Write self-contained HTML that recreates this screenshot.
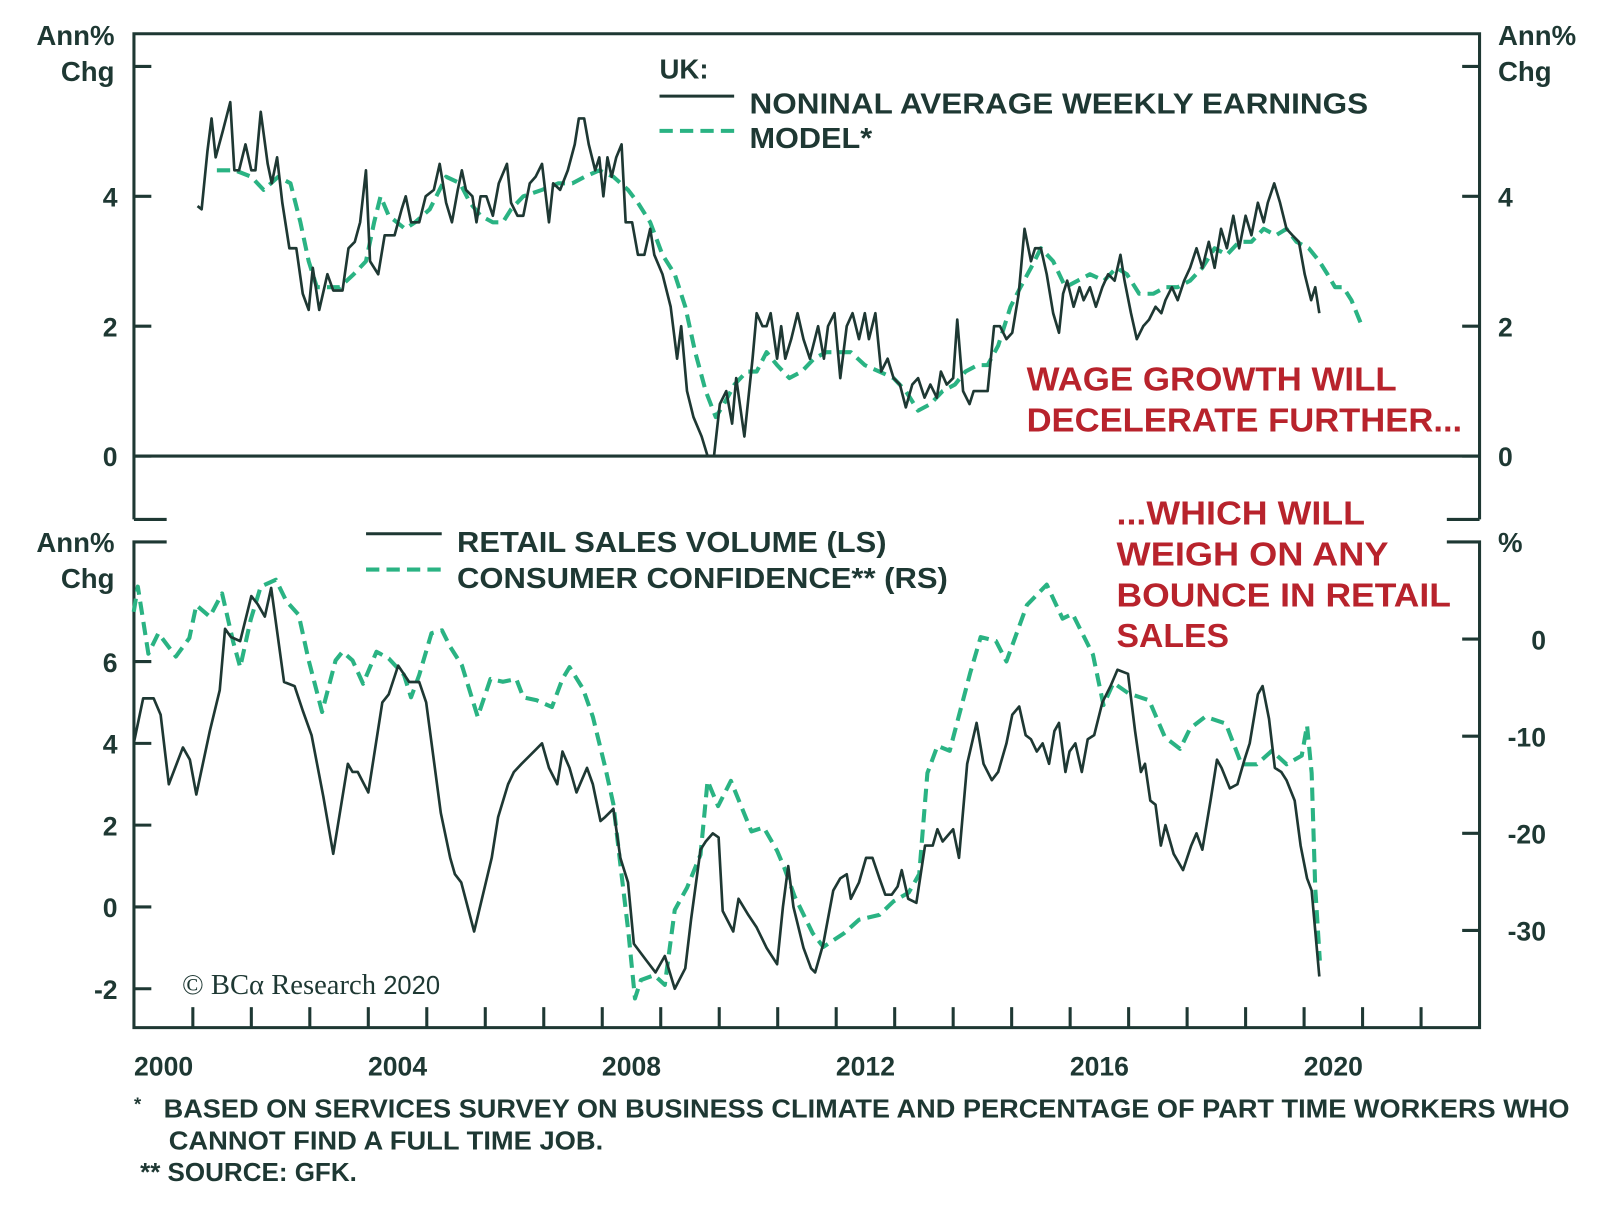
<!DOCTYPE html>
<html><head><meta charset="utf-8"><style>
html,body{margin:0;padding:0;background:#fff;}
svg{display:block;}
text{font-family:"Liberation Sans",sans-serif;fill:#1e3833;font-weight:bold;}
.red{fill:#b8232c;}
</style></head><body>
<svg id="chart" width="1600" height="1214" viewBox="0 0 1564.8 1187.3" preserveAspectRatio="none" xmlns="http://www.w3.org/2000/svg">
<g id="frame" stroke="#1e3833" stroke-width="3" fill="none">
<path d="M131 508 V33 H1447 V508"/>
<path d="M131 508 H163 M1415 508 H1447"/>
<path d="M131 446 H1447"/>
<path d="M163 530 H131 V1005 H1447 V530 H1415"/>
</g>
<g id="ticks" stroke="#1e3833" stroke-width="3"></g>
<g id="labels" font-size="26"></g>
<g id="series" fill="none"></g>

<text x="112" y="44" font-size="27" text-anchor="end">Ann%</text>
<text x="112" y="79" font-size="27" text-anchor="end">Chg</text>
<text x="1465" y="44" font-size="27">Ann%</text>
<text x="1465" y="79" font-size="27">Chg</text>
<text x="112" y="540" font-size="27" text-anchor="end">Ann%</text>
<text x="112" y="575" font-size="27" text-anchor="end">Chg</text>
<text x="1465" y="540" font-size="27">%</text>

<g>
<text x="645" y="77" font-size="27">UK:</text>
<line x1="645" y1="94" x2="718" y2="94" stroke="#1e3833" stroke-width="3"/>
<text x="733" y="111" font-size="28" textLength="605" lengthAdjust="spacingAndGlyphs">NONINAL AVERAGE WEEKLY EARNINGS</text>
<line x1="645" y1="128" x2="718" y2="128" stroke="#2ab383" stroke-width="4" stroke-dasharray="13,7"/>
<text x="733" y="145" font-size="28" textLength="120" lengthAdjust="spacingAndGlyphs">MODEL*</text>
</g>
<g>
<line x1="358" y1="522" x2="432" y2="522" stroke="#1e3833" stroke-width="3"/>
<text x="447" y="540" font-size="28" textLength="420" lengthAdjust="spacingAndGlyphs">RETAIL SALES VOLUME (LS)</text>
<line x1="358" y1="557" x2="432" y2="557" stroke="#2ab383" stroke-width="4" stroke-dasharray="13,7"/>
<text x="447" y="575" font-size="28" textLength="480" lengthAdjust="spacingAndGlyphs">CONSUMER CONFIDENCE** (RS)</text>
</g>
<g font-size="33">
<text class="red" x="1004" y="382" textLength="362" lengthAdjust="spacingAndGlyphs">WAGE GROWTH WILL</text>
<text class="red" x="1004" y="422" textLength="426" lengthAdjust="spacingAndGlyphs">DECELERATE FURTHER...</text>
<text class="red" x="1092" y="513" textLength="243" lengthAdjust="spacingAndGlyphs">...WHICH WILL</text>
<text class="red" x="1092" y="553" textLength="266" lengthAdjust="spacingAndGlyphs">WEIGH ON ANY</text>
<text class="red" x="1092" y="593" textLength="327" lengthAdjust="spacingAndGlyphs">BOUNCE IN RETAIL</text>
<text class="red" x="1092" y="633" textLength="110" lengthAdjust="spacingAndGlyphs">SALES</text>
</g>
<text x="178" y="972" font-size="28" style="font-family:'Liberation Serif',serif;font-weight:normal">© BCα Research <tspan style="font-family:'Liberation Sans',sans-serif;font-weight:normal" font-size="25">2020</tspan></text>
<g font-size="25">
<text x="131" y="1086" font-size="18">*</text>
<text x="160" y="1093" textLength="1375" lengthAdjust="spacingAndGlyphs">BASED ON SERVICES SURVEY ON BUSINESS CLIMATE AND PERCENTAGE OF PART TIME WORKERS WHO</text>
<text x="165" y="1124" textLength="425" lengthAdjust="spacingAndGlyphs">CANNOT FIND A FULL TIME JOB.</text>
<text x="137" y="1155" textLength="212" lengthAdjust="spacingAndGlyphs">** SOURCE: GFK.</text>
</g>
</svg>
<script>
const wageDates=[0.58,0.65,0.75,0.82,0.89,1.01,1.14,1.21,1.29,1.40,1.50,1.57,1.66,1.78,1.85,1.94,2.03,2.15,2.27,2.38,2.48,2.55,2.66,2.80,2.90,3.06,3.16,3.27,3.36,3.46,3.53,3.67,3.78,3.95,4.07,4.14,4.23,4.37,4.48,4.62,4.72,4.83,4.93,5.03,5.10,5.17,5.28,5.35,5.42,5.52,5.63,5.73,5.87,5.94,6.05,6.15,6.26,6.36,6.47,6.59,6.66,6.78,6.91,7.03,7.10,7.19,7.27,7.38,7.45,7.52,7.59,7.66,7.74,7.83,7.90,8.01,8.11,8.22,8.32,8.39,8.53,8.67,8.78,8.85,8.95,9.06,9.20,9.30,9.41,9.51,9.62,9.72,9.79,9.93,10.07,10.14,10.24,10.31,10.38,10.49,10.56,10.63,10.73,10.84,10.94,11.05,11.19,11.29,11.36,11.47,11.57,11.68,11.78,11.89,11.99,12.06,12.17,12.27,12.38,12.48,12.59,12.69,12.80,12.90,13.01,13.11,13.22,13.29,13.39,13.50,13.57,13.67,13.78,13.85,13.99,14.09,14.20,14.30,14.41,14.51,14.62,14.72,14.83,14.90,15.00,15.10,15.21,15.31,15.38,15.45,15.56,15.66,15.73,15.84,15.94,16.05,16.15,16.26,16.36,16.43,16.54,16.64,16.75,16.85,16.96,17.06,17.13,17.24,17.34,17.45,17.55,17.66,17.76,17.87,17.97,18.08,18.18,18.29,18.39,18.50,18.60,18.71,18.81,18.88,18.99,19.09,19.20,19.30,19.41,19.51,19.62,19.69,19.76];
const wageValues=[3.85,3.8,4.7,5.2,4.6,5.0,5.45,4.4,4.4,4.8,4.4,4.4,5.3,4.5,4.2,4.6,3.9,3.2,3.2,2.5,2.25,2.9,2.25,2.8,2.55,2.55,3.2,3.3,3.6,4.4,3.0,2.8,3.4,3.4,3.8,4.0,3.6,3.6,4.0,4.1,4.5,3.9,3.6,4.1,4.4,4.1,4.0,3.6,4.0,4.0,3.7,4.2,4.5,3.9,3.7,3.7,4.2,4.3,4.5,3.6,4.2,4.1,4.4,4.8,5.2,5.2,4.8,4.4,4.6,4.0,4.6,4.3,4.6,4.8,3.6,3.6,3.1,3.1,3.5,3.1,2.8,2.3,1.5,2.0,1.0,0.6,0.3,0.0,0.0,0.8,1.0,0.5,1.2,0.3,1.5,2.2,2.0,2.0,2.2,1.5,2.0,1.5,1.8,2.2,1.8,1.5,2.0,1.5,2.0,2.2,1.2,2.0,2.2,1.8,2.2,1.8,2.2,1.3,1.5,1.2,1.1,0.75,1.1,1.2,0.9,1.1,0.9,1.3,1.1,1.2,2.1,1.0,0.8,1.0,1.0,1.0,2.0,2.0,1.8,1.9,2.5,3.5,3.0,3.2,3.2,2.8,2.2,1.9,2.5,2.7,2.3,2.6,2.4,2.6,2.3,2.6,2.8,2.7,3.1,2.7,2.2,1.8,2.0,2.1,2.3,2.2,2.4,2.6,2.4,2.7,2.9,3.2,2.9,3.3,2.9,3.5,3.2,3.7,3.2,3.7,3.4,3.9,3.6,3.9,4.2,3.9,3.5,3.4,3.3,2.8,2.4,2.6,2.2];
const modelDates=[0.91,1.22,1.50,1.71,1.96,2.17,2.34,2.48,2.62,2.80,3.01,3.25,3.46,3.60,3.71,3.85,3.99,4.13,4.30,4.55,4.83,5.07,5.24,5.42,5.63,5.80,5.94,6.15,6.47,6.75,6.99,7.20,7.45,7.69,7.94,8.11,8.32,8.53,8.74,8.92,9.09,9.27,9.44,9.58,9.76,9.97,10.14,10.31,10.49,10.70,10.91,11.12,11.33,11.54,11.75,11.99,12.24,12.48,12.69,12.90,13.11,13.32,13.53,13.71,13.92,14.09,14.27,14.48,14.65,14.83,15.00,15.21,15.42,15.63,15.84,16.08,16.29,16.47,16.68,16.92,17.13,17.34,17.55,17.76,17.97,18.18,18.39,18.60,18.81,19.02,19.20,19.37,19.58,19.76,19.90,20.03,20.17,20.31,20.49];
const modelValues=[4.4,4.4,4.3,4.1,4.3,4.2,3.6,3.0,2.6,2.6,2.6,2.8,3.0,3.6,4.0,3.7,3.6,3.5,3.6,3.8,4.3,4.2,3.9,3.7,3.6,3.6,3.8,4.0,4.1,4.2,4.2,4.3,4.4,4.3,4.1,3.9,3.6,3.1,2.8,2.3,1.6,1.0,0.6,0.8,1.1,1.3,1.3,1.6,1.4,1.2,1.3,1.5,1.6,1.6,1.6,1.4,1.3,1.2,1.0,0.7,0.8,1.0,1.1,1.3,1.4,1.4,1.7,2.3,2.6,2.9,3.2,3.0,2.6,2.7,2.8,2.7,2.9,2.8,2.5,2.5,2.6,2.6,2.7,2.9,3.2,3.1,3.3,3.3,3.5,3.4,3.5,3.3,3.2,3.0,2.8,2.6,2.6,2.4,2.0];
const retailDates=[-0.51,-0.35,-0.17,-0.05,0.09,0.33,0.45,0.56,0.79,0.96,1.05,1.15,1.31,1.50,1.61,1.73,1.84,2.06,2.24,2.38,2.53,2.73,2.90,3.15,3.23,3.32,3.50,3.74,3.85,4.01,4.20,4.37,4.49,4.74,4.90,4.98,5.09,5.31,5.61,5.72,5.89,5.99,6.12,6.33,6.47,6.59,6.73,6.82,6.94,7.06,7.24,7.34,7.47,7.55,7.69,7.81,7.94,8.04,8.25,8.41,8.57,8.74,8.92,9.02,9.18,9.27,9.39,9.49,9.56,9.74,9.83,10.00,10.14,10.31,10.49,10.59,10.68,10.77,10.94,11.07,11.14,11.28,11.45,11.57,11.68,11.75,11.89,12.01,12.12,12.24,12.34,12.45,12.55,12.62,12.73,12.87,13.02,13.15,13.23,13.32,13.50,13.60,13.74,13.90,14.02,14.16,14.27,14.41,14.51,14.63,14.74,14.83,14.93,15.03,15.14,15.23,15.31,15.42,15.49,15.59,15.70,15.80,15.91,16.05,16.19,16.31,16.49,16.61,16.71,16.78,16.87,16.96,17.05,17.13,17.27,17.43,17.57,17.66,17.76,17.90,18.01,18.09,18.23,18.36,18.48,18.57,18.71,18.79,18.90,19.00,19.11,19.20,19.34,19.44,19.55,19.63,19.76];
const retailValues=[4.0,5.1,5.1,4.7,3.0,3.9,3.6,2.75,4.3,5.3,6.8,6.6,6.5,7.6,7.4,7.1,7.8,5.5,5.4,4.8,4.2,2.7,1.3,3.5,3.3,3.3,2.8,5.0,5.2,5.9,5.5,5.5,5.0,2.3,1.2,0.8,0.6,-0.6,1.2,2.2,3.0,3.3,3.5,3.8,4.0,3.4,3.0,3.8,3.4,2.8,3.4,3.0,2.1,2.2,2.4,1.2,0.6,-0.9,-1.3,-1.6,-1.2,-2.0,-1.5,-0.3,1.4,1.6,1.8,1.7,-0.1,-0.6,0.2,-0.2,-0.5,-1.0,-1.4,0.0,1.0,0.0,-1.0,-1.5,-1.6,-0.9,0.4,0.7,0.8,0.2,0.6,1.2,1.2,0.7,0.3,0.3,0.5,0.9,0.2,0.1,1.5,1.5,1.9,1.6,1.9,1.2,3.5,4.5,3.5,3.1,3.3,4.0,4.7,4.9,4.2,4.1,3.8,4.0,3.5,4.3,4.5,3.3,3.8,4.0,3.3,4.1,4.2,5.0,5.4,5.8,5.7,4.3,3.3,3.5,2.6,2.5,1.5,2.0,1.3,0.9,1.5,1.8,1.4,2.6,3.6,3.4,2.9,3.0,3.6,4.0,5.2,5.4,4.6,3.4,3.3,3.1,2.6,1.5,0.7,0.4,-1.7];
const confDates=[-0.51,-0.44,-0.26,-0.09,0.21,0.44,0.56,0.79,1.00,1.19,1.31,1.49,1.66,1.92,2.10,2.31,2.48,2.71,2.94,3.06,3.23,3.41,3.64,3.85,4.11,4.23,4.37,4.58,4.76,4.90,5.10,5.37,5.59,5.80,6.03,6.15,6.38,6.64,6.82,6.94,7.17,7.34,7.55,7.69,7.81,7.95,8.06,8.16,8.39,8.57,8.74,8.95,9.18,9.30,9.48,9.70,10.05,10.26,10.49,10.61,10.79,11.10,11.28,11.63,11.89,12.24,12.48,12.74,12.92,13.06,13.23,13.44,13.79,13.97,14.23,14.41,14.76,15.10,15.37,15.54,15.89,16.07,16.24,16.50,16.85,17.12,17.38,17.55,17.81,18.16,18.43,18.69,18.95,19.20,19.46,19.55,19.63,19.69,19.77];
const confValues=[2.8,5.4,-1.5,0.6,-1.8,0.1,3.5,2.3,4.7,-0.3,-2.9,2.0,5.4,6.1,3.9,2.5,-2.2,-7.5,-2.2,-1.3,-2.2,-4.6,-1.3,-2.0,-3.7,-6.0,-3.7,0.6,0.9,-0.8,-2.7,-8.0,-4.1,-4.4,-4.1,-6.0,-6.3,-7.0,-4.1,-2.9,-5.1,-8.0,-13.2,-17.0,-23.2,-30.3,-37.0,-35.1,-34.6,-35.6,-27.9,-25.6,-22.2,-14.6,-17.2,-14.6,-19.8,-19.4,-21.8,-23.5,-26.5,-30.3,-31.7,-30.3,-28.9,-28.4,-27.0,-26.1,-24.2,-13.8,-11.0,-11.5,-3.5,0.2,-0.2,-2.3,3.5,5.6,2.1,2.6,-1.6,-6.8,-4.5,-5.6,-6.3,-10.1,-11.3,-9.2,-8.0,-8.7,-12.9,-12.9,-11.5,-12.9,-12.0,-8.9,-13.8,-25.6,-33.1];
const yearLabels=["2000","2004","2008","2012","2016","2020"];
const topTicks=[6,4,2,0];
const topTickLabels=["4","2","0"];
const leftTicks=[6,4,2,0,-2];
const rightTicks=[0,-10,-20,-30];

const X=d=>160+d*57.2;
const YT=v=>446-v*63.5;
const YL=v=>887-v*40;
const YR=v=>625-v*9.5;
const NS="http://www.w3.org/2000/svg";
function mk(tag,attrs,parent){const e=document.createElementNS(NS,tag);for(const k in attrs)e.setAttribute(k,attrs[k]);parent.appendChild(e);return e;}
const ticks=document.getElementById('ticks'),labels=document.getElementById('labels'),series=document.getElementById('series');
for(let i=0;i<22;i++){const x=X(i+0.5);const t=mk('line',{x1:x,x2:x,y1:1005,y2:985},ticks);

}
yearLabels.forEach((s,i)=>{const t=mk('text',{x:X(+s-2000),y:1052,'text-anchor':'middle'},labels);t.textContent=s;

});
topTicks.forEach(v=>{const y=YT(v);mk('line',{x1:131,x2:148,y1:y,y2:y},ticks);mk('line',{x1:1430,x2:1447,y1:y,y2:y},ticks);});
topTickLabels.forEach(s=>{const y=YT(+s)+10;
const a=mk('text',{x:115,y:y,'text-anchor':'end'},labels);a.textContent=s;


const b=mk('text',{x:1465,y:y},labels);b.textContent=s;

});
leftTicks.forEach(v=>{const y=YL(v);mk('line',{x1:131,x2:148,y1:y,y2:y},ticks);
const a=mk('text',{x:115,y:y+10,'text-anchor':'end'},labels);a.textContent=String(v);

});
rightTicks.forEach(v=>{const y=YR(v);mk('line',{x1:1430,x2:1447,y1:y,y2:y},ticks);
const a=mk('text',{x:1512,y:y+10,'text-anchor':'end'},labels);a.textContent=String(v);

});
function line(dates,vals,ys,name,dash){
 const d=dates.map((t,i)=>(i?'L':'M')+X(t).toFixed(1)+' '+ys(vals[i]).toFixed(1)).join('');
 const p=mk('path',{d:d,stroke:dash?'#2ab383':'#1e3833','stroke-width':dash?4:2.6,'stroke-dasharray':dash?'13,7':'none','stroke-linejoin':'round'},series);
 
 
}
line(modelDates,modelValues,YT,'model-line',true);
line(wageDates,wageValues,YT,'earnings-line',false);
line(confDates,confValues,YR,'consumer-confidence-line',true);
line(retailDates,retailValues,YL,'retail-sales-line',false);
</script>
</body></html>
